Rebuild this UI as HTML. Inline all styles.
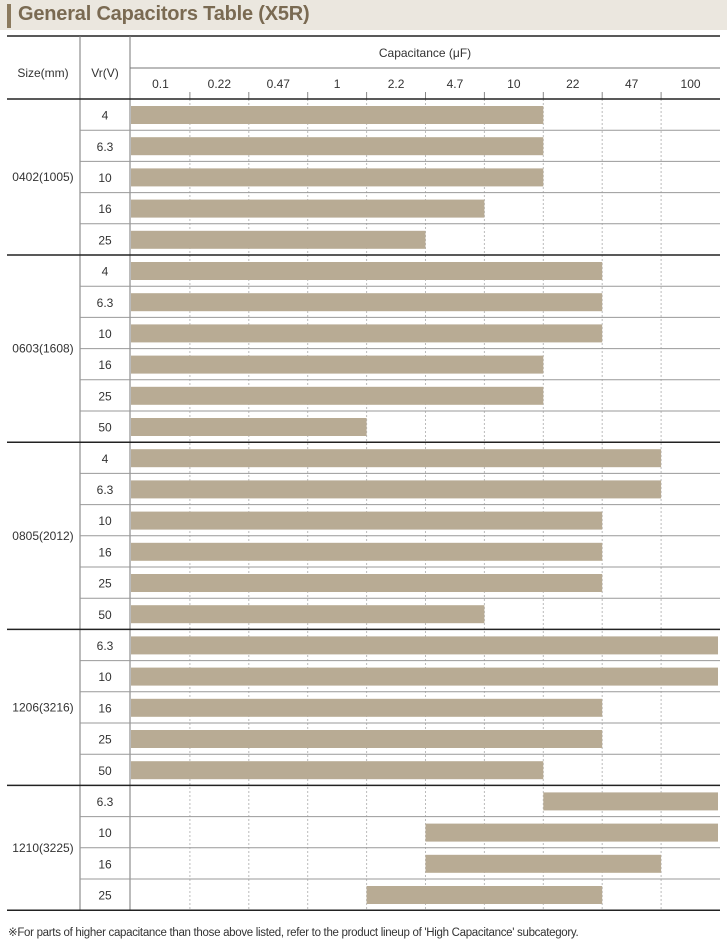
<!DOCTYPE html>
<html><head><meta charset="utf-8">
<style>
body{margin:0;width:727px;height:940px;background:#fff;font-family:"Liberation Sans",sans-serif;position:relative;overflow:hidden}
#title{position:absolute;left:0;top:0;width:727px;height:30px;background:#ebe7df}
#title .acc{position:absolute;left:7px;top:4px;width:4px;height:24px;background:#8b7a5e}
#title span{position:absolute;left:18px;top:3px;font-size:20px;font-weight:bold;color:#7a6a52;letter-spacing:-0.2px}
#foot{position:absolute;left:8px;top:925px;font-size:11.5px;color:#333;letter-spacing:-0.3px}
</style></head><body>
<div id="title"><div class="acc"></div><span>General Capacitors Table (X5R)</span></div>
<svg id="chart" width="727" height="920" style="position:absolute;left:0;top:0"></svg>
<div id="foot">※For parts of higher capacitance than those above listed, refer to the product lineup of 'High Capacitance' subcategory.</div>
<script>
const ticks=["0.1","0.22","0.47","1","2.2","4.7","10","22","47","100"];
const sizes=["0402(1005)","0603(1608)","0805(2012)","1206(3216)","1210(3225)"];
const voltages=[["4","6.3","10","16","25"],["4","6.3","10","16","25","50"],["4","6.3","10","16","25","50"],["6.3","10","16","25","50"],["6.3","10","16","25"]];
// min and max capacitance index (into ticks) per row
const minIdx=[[0,0,0,0,0],[0,0,0,0,0,0],[0,0,0,0,0,0],[0,0,0,0,0],[7,5,5,4]];
const maxIdx=[[6,6,6,5,4],[7,7,7,6,6,3],[8,8,7,7,7,5],[9,9,7,7,6],[9,9,8,7]];
const svg=document.getElementById('chart');
const NS="http://www.w3.org/2000/svg";
const X0=131,X1=720,CW=(X1-X0)/ticks.length,RH=31.2,Y0=99;
function x(i){return X0+i*CW;}
function mk(t,a,txt){const e=document.createElementNS(NS,t);for(const k in a)e.setAttribute(k,a[k]);if(txt!==undefined)e.textContent=txt;svg.appendChild(e);return e;}
let total=voltages.reduce((s,v)=>s+v.length,0);
let Yend=Y0+total*RH;
// dashed gridlines
for(let i=1;i<ticks.length;i++){let e=mk('line',{x1:x(i),x2:x(i),y1:Y0,y2:Yend,stroke:'#bbb','stroke-dasharray':'2,2','stroke-width':1});

let t=mk('line',{x1:x(i),x2:x(i),y1:Y0-7,y2:Y0,stroke:'#888','stroke-width':1});
}
// header
let e;
e=mk('line',{x1:7,x2:720,y1:36,y2:36,stroke:'#222','stroke-width':1.5});
e=mk('line',{x1:80,x2:80,y1:36,y2:Yend,stroke:'#777','stroke-width':1});
e=mk('line',{x1:130,x2:130,y1:36,y2:Yend,stroke:'#777','stroke-width':1});
e=mk('line',{x1:130,x2:720,y1:68,y2:68,stroke:'#777','stroke-width':1});
e=mk('text',{x:43,y:77,'text-anchor':'middle','font-size':12,fill:'#333'},'Size(mm)');
e=mk('text',{x:105,y:77,'text-anchor':'middle','font-size':12,fill:'#333'},'Vr(V)');
e=mk('text',{x:425,y:57,'text-anchor':'middle','font-size':12,fill:'#333'},'Capacitance (\u03BCF)');
ticks.forEach((t,i)=>{let el=mk('text',{x:x(i)+CW/2,y:88,'text-anchor':'middle','font-size':12,fill:'#333'},t);
});
e=mk('line',{x1:7,x2:720,y1:Y0,y2:Y0,stroke:'#222','stroke-width':1.5});
let r=0;
sizes.forEach((s,g)=>{
  let gy=Y0+r*RH,n=voltages[g].length;
  let lbl=mk('text',{x:43,y:gy+n*RH/2+4,'text-anchor':'middle','font-size':12,fill:'#333'},s);
  
  voltages[g].forEach((v,k)=>{
    let ry=Y0+r*RH;
    let vt=mk('text',{x:105,y:ry+RH/2+5,'text-anchor':'middle','font-size':12,fill:'#333'},v);
    
    let b=mk('rect',{x:x(minIdx[g][k])+(minIdx[g][k]?0:0),y:ry+7,width:x(maxIdx[g][k]+1)-x(minIdx[g][k])-(maxIdx[g][k]==9?2:0),height:18,fill:'#b8ab94'});
    
    r++;
    if(k<n-1){let l=mk('line',{x1:80,x2:720,y1:Y0+r*RH,y2:Y0+r*RH,stroke:'#999','stroke-width':1});
      }
  });
  let l=mk('line',{x1:7,x2:720,y1:Y0+r*RH,y2:Y0+r*RH,stroke:'#222','stroke-width':1.5});
  
});
</script>
</body></html>
